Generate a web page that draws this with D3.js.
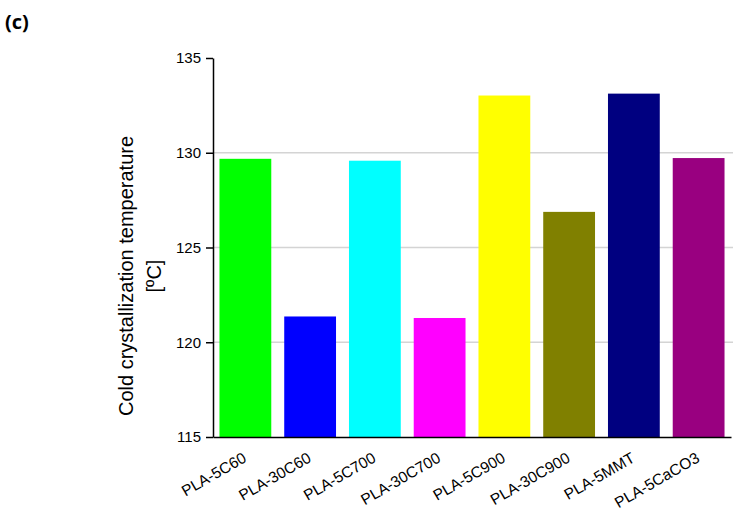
<!DOCTYPE html>
<html>
<head>
<meta charset="utf-8">
<script src="https://cdn.jsdelivr.net/npm/d3@7"></script>
<style>
  body { margin: 0; background: #fff; }
  text { font-family: "Liberation Sans", Arial, sans-serif; }
</style>
</head>
<body>
<div id="chart"></div>
<script>
// data
var samples = ["PLA-5C60", "PLA-30C60", "PLA-5C700", "PLA-30C700", "PLA-5C900", "PLA-30C900", "PLA-5MMT", "PLA-5CaCO3"];
var tcc = [129.68, 121.36, 129.58, 121.28, 133.02, 126.88, 133.12, 129.72];
var colors = ["#00ff00", "#0000ff", "#00ffff", "#ff00ff", "#ffff00", "#808000", "#000080", "#990080"];
var yTicks = [115, 120, 125, 130, 135];

var width = 737, height = 519;
var margin = { top: 58, right: 6, bottom: 82, left: 213 };

var svg = d3.select("#chart")
    .append("svg")
    .attr("width", width)
    .attr("height", height);

svg.append("text")
    .attr("x", 5)
    .attr("y", 29)
    .style("font-family", "'Open Sans', sans-serif")
    .style("font-weight", "bold")
    .style("font-size", "20px")
    .text("(c)");

var x = d3.scaleBand()
    .domain(samples)
    .range([margin.left, width - margin.right])
    .paddingInner(0.2)
    .paddingOuter(0.1);

var y = d3.scaleLinear()
    .domain([115, 135])
    .range([height - margin.bottom, margin.top]);

// grid lines
svg.append("g")
    .selectAll("line")
    .data(yTicks.filter(function (d) { return d > 115 && d < 135; }))
    .enter()
    .append("line")
    .attr("x1", margin.left)
    .attr("x2", width - margin.right + 2)
    .attr("y1", function (d) { return y(d); })
    .attr("y2", function (d) { return y(d); })
    .attr("stroke", "#d4d4d4")
    .attr("stroke-width", 1.5);

// bars
svg.selectAll("mybar")
    .data(samples)
    .enter()
    .append("rect")
    .attr("x", function (d) { return x(d); })
    .attr("width", x.bandwidth())
    .attr("y", function (d, i) { return y(tcc[i]); })
    .attr("height", function (d, i) { return y(115) - y(tcc[i]); })
    .attr("fill", function (d, i) { return colors[i]; });

// Y axis
var yAxis = svg.append("g")
    .attr("transform", "translate(" + margin.left + ",0)")
    .call(d3.axisLeft(y).tickValues(yTicks).tickSize(7).tickPadding(5).tickSizeOuter(0));
yAxis.select(".domain").attr("stroke-width", 1.5);
yAxis.selectAll(".tick line").attr("stroke-width", 1.5);
yAxis.selectAll("text").style("font-size", "15px").attr("fill", "#000");

// X axis
var xAxis = svg.append("g")
    .attr("transform", "translate(0," + y(115) + ")")
    .call(d3.axisBottom(x).tickSize(0).tickSizeOuter(0));
xAxis.select(".domain").attr("stroke-width", 1.5);
xAxis.selectAll("text")
    .style("font-size", "15.5px")
    .style("text-anchor", "end")
    .attr("fill", "#000")
    .attr("dy", null)
    .attr("y", 0)
    .attr("transform", "translate(2,24)rotate(-30)");

// Y label
var yl = svg.append("text")
    .attr("transform", "translate(133,276)rotate(-90)")
    .attr("text-anchor", "middle")
    .style("font-size", "20px");
yl.append("tspan").attr("x", 0).attr("dy", 0).text("Cold crystallization temperature");
yl.append("tspan").attr("x", 0).attr("dy", 28).text("[\u00baC]");
</script>
</body>
</html>
